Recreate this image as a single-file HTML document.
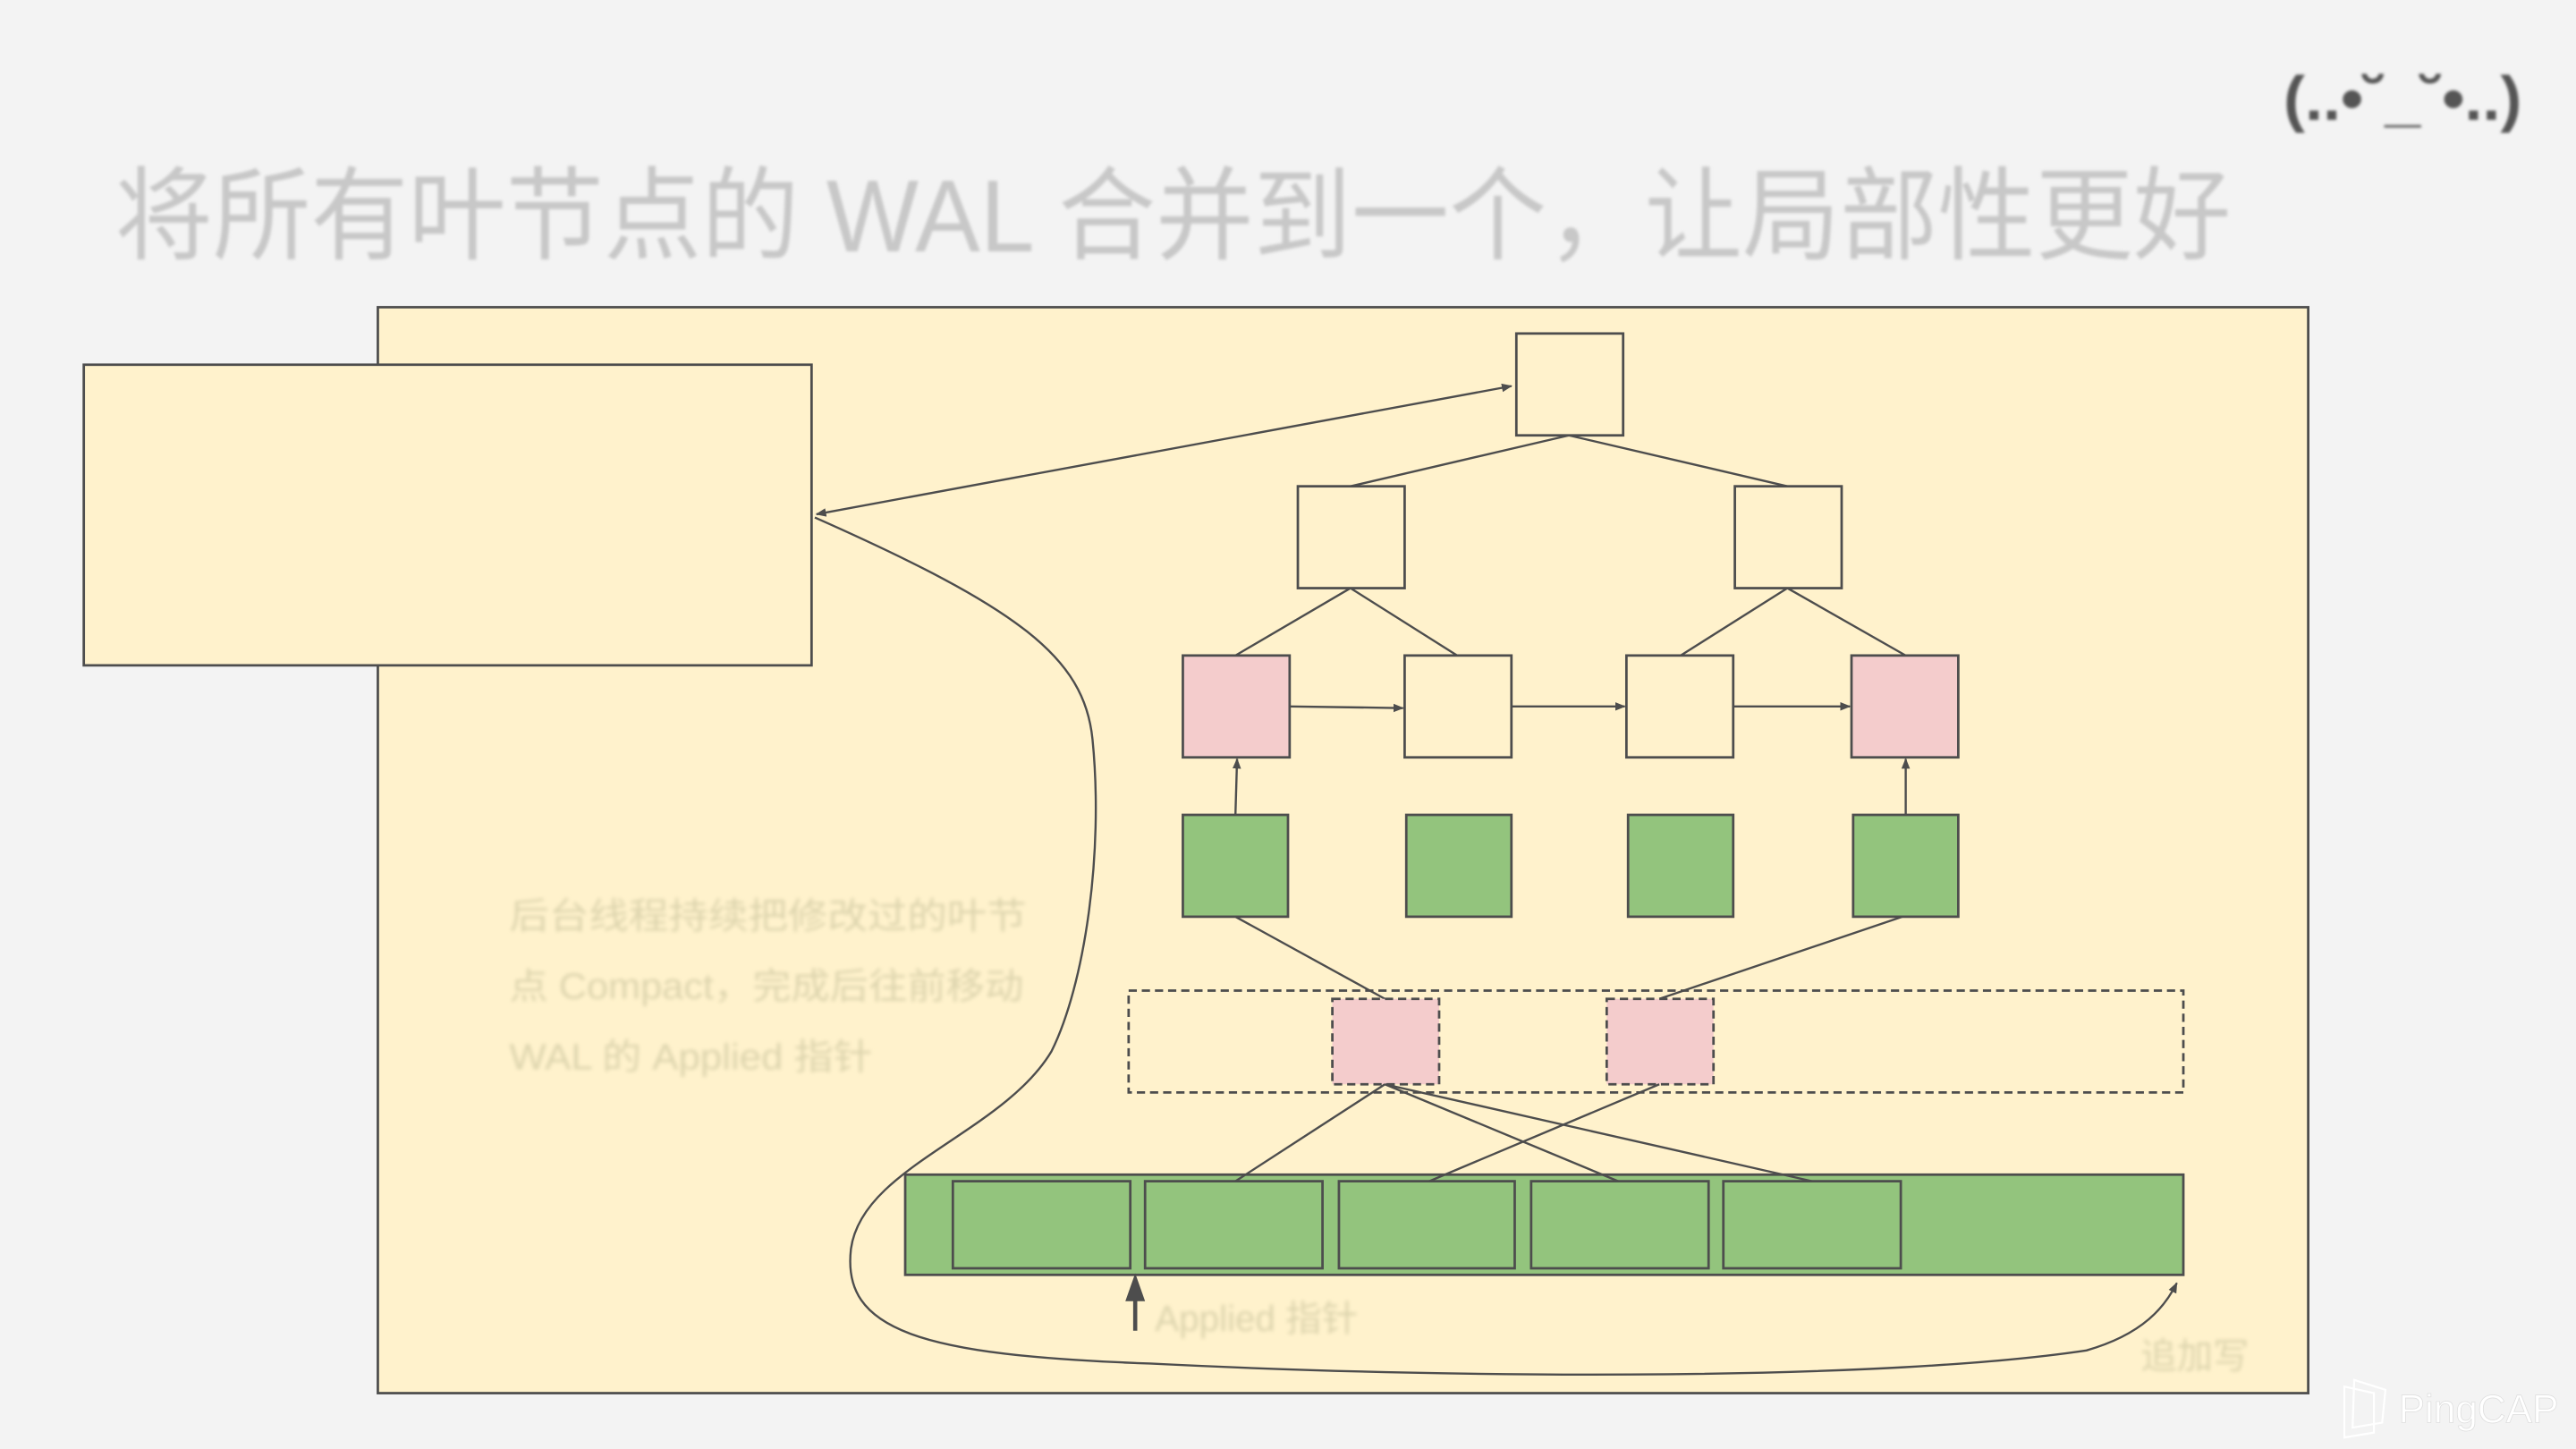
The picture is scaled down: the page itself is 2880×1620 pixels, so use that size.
<!DOCTYPE html>
<html><head><meta charset="utf-8"><style>
html,body{margin:0;padding:0;background:#f3f3f3;}
svg{display:block;}
</style></head><body>
<svg width="2880" height="1620" viewBox="0 0 1568 882" xmlns="http://www.w3.org/2000/svg">
<defs>
<marker id="a" viewBox="0 0 10 10" refX="9" refY="5" markerWidth="5" markerHeight="5" orient="auto-start-reverse"><path d="M0,1 L10,5 L0,9 Z" fill="#4d4d4d"/></marker>
<filter id="b"><feGaussianBlur stdDeviation="1.2"/></filter>
<filter id="b2"><feGaussianBlur stdDeviation="0.8"/></filter>
</defs>
<rect width="1568" height="882" fill="#f3f3f3"/>
<text x="1390" y="73" font-family="Liberation Sans, DejaVu Sans, sans-serif" font-size="38" font-weight="bold" fill="#555" filter="url(#b2)" textLength="145" lengthAdjust="spacingAndGlyphs">(..•˘_˘•..)</text>
<text x="70" y="153" font-family="Liberation Sans, Noto Sans CJK SC, sans-serif" font-size="62" fill="#c8c8c8" filter="url(#b2)" textLength="1288" lengthAdjust="spacingAndGlyphs">将所有叶节点的 WAL 合并到一个，让局部性更好</text>
<g stroke="#4d4d4d" stroke-width="1.5">
<rect x="230" y="187" width="1175" height="661" fill="#fff2cc"/>
<rect x="51" y="222" width="443" height="183" fill="#fff2cc"/>
</g>
<g font-family="Liberation Sans, Noto Sans CJK SC, sans-serif" font-size="22" fill="#ddd4ad" filter="url(#b)">
<text x="310" y="565" textLength="315" lengthAdjust="spacingAndGlyphs">后台线程持续把修改过的叶节</text>
<text x="310" y="608" textLength="313" lengthAdjust="spacingAndGlyphs">点 Compact，完成后往前移动</text>
<text x="310" y="651" textLength="221" lengthAdjust="spacingAndGlyphs">WAL 的 Applied 指针</text>
<text x="703" y="810">Applied 指针</text>
<text x="1303" y="833">追加写</text>
</g>
<g stroke="#4d4d4d" stroke-width="1.3" fill="none">
<line x1="920" y1="235" x2="497" y2="313" marker-start="url(#a)" marker-end="url(#a)"/>
<path d="M496,315 C620,370 660,400 665,450 C672,520 660,600 640,640 C610,690 525,710 518,760 C512,810 560,825 700,830 C900,840 1150,840 1270,822 C1305,812 1318,795 1325,781" marker-end="url(#a)"/>
<line x1="955" y1="265" x2="822" y2="296"/><line x1="955" y1="265" x2="1088" y2="296"/>
<line x1="822" y1="358" x2="752" y2="399"/><line x1="822" y1="358" x2="887" y2="399"/>
<line x1="1088" y1="358" x2="1023" y2="399"/><line x1="1088" y1="358" x2="1160" y2="399"/>
<line x1="785" y1="430" x2="854" y2="431" marker-end="url(#a)"/>
<line x1="920" y1="430" x2="989" y2="430" marker-end="url(#a)"/>
<line x1="1055" y1="430" x2="1126" y2="430" marker-end="url(#a)"/>
<line x1="752" y1="496" x2="753" y2="462" marker-end="url(#a)"/>
<line x1="1160" y1="496" x2="1160" y2="462" marker-end="url(#a)"/>
<line x1="752" y1="558" x2="843" y2="608"/>
<line x1="1158" y1="558" x2="1010" y2="608"/>
</g>
<g stroke="#4d4d4d" stroke-width="1.5">
<rect x="923" y="203" width="65" height="62" fill="#fff2cc"/>
<rect x="790" y="296" width="65" height="62" fill="#fff2cc"/>
<rect x="1056" y="296" width="65" height="62" fill="#fff2cc"/>
<rect x="720" y="399" width="65" height="62" fill="#f4cccc"/>
<rect x="855" y="399" width="65" height="62" fill="#fff2cc"/>
<rect x="990" y="399" width="65" height="62" fill="#fff2cc"/>
<rect x="1127" y="399" width="65" height="62" fill="#f4cccc"/>
<rect x="720" y="496" width="64" height="62" fill="#93c47d"/>
<rect x="856" y="496" width="64" height="62" fill="#93c47d"/>
<rect x="991" y="496" width="64" height="62" fill="#93c47d"/>
<rect x="1128" y="496" width="64" height="62" fill="#93c47d"/>
<rect x="687" y="603" width="642" height="62" fill="none" stroke-dasharray="5,3"/>
<rect x="811" y="608" width="65" height="52" fill="#f4cccc" stroke-dasharray="5,3"/>
<rect x="978" y="608" width="65" height="52" fill="#f4cccc" stroke-dasharray="5,3"/>
<rect x="551" y="715" width="778" height="61" fill="#93c47d"/>
<rect x="580" y="719" width="108" height="53" fill="#93c47d"/>
<rect x="697" y="719" width="108" height="53" fill="#93c47d"/>
<rect x="815" y="719" width="107" height="53" fill="#93c47d"/>
<rect x="932" y="719" width="108" height="53" fill="#93c47d"/>
<rect x="1049" y="719" width="108" height="53" fill="#93c47d"/>
</g>
<g stroke="#4d4d4d" stroke-width="1.3">
<line x1="843" y1="660" x2="752" y2="719"/>
<line x1="843" y1="660" x2="985" y2="719"/>
<line x1="843" y1="660" x2="1103" y2="719"/>
<line x1="1010" y1="660" x2="870" y2="719"/>
<line x1="691" y1="810" x2="691" y2="790" stroke-width="2.5"/>
</g>
<path d="M691,775 L697,792 L685,792 Z" fill="#4d4d4d"/>
<g fill="none" stroke="#fff" stroke-width="1.2">
<path d="M1427,844 L1445,848 L1445,872 L1427,875 Z"/><path d="M1433,840 L1452,846 L1450,866 L1432,869 Z"/>
</g>
<text x="1460" y="866" font-family="Liberation Sans, sans-serif" font-size="24" fill="#fff" stroke="#ddd" stroke-width="0.4">PingCAP</text>
</svg>
</body></html>
